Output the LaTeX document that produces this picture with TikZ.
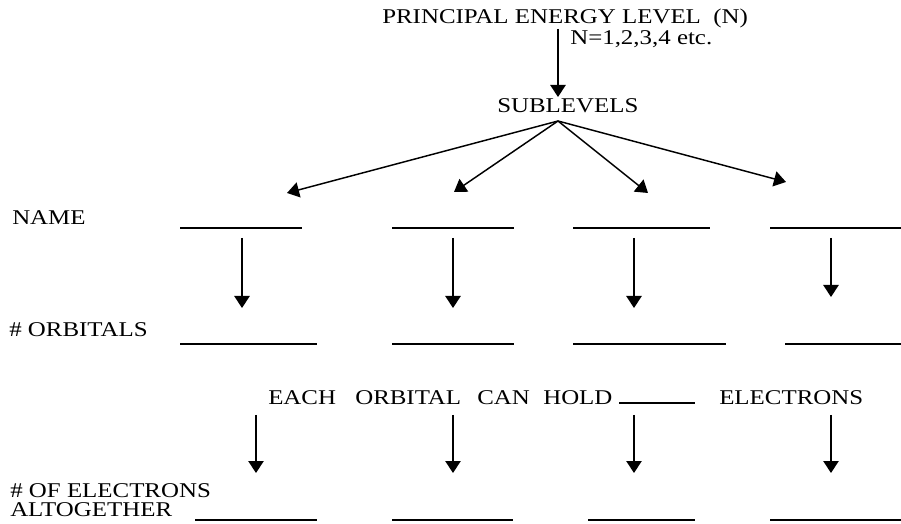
\documentclass[tikz,border=0pt]{standalone}
\usepackage{fontspec}
\setmainfont{Liberation Serif}
\usepackage{graphicx}
\usetikzlibrary{arrows.meta}
\tikzset{
  lbl/.style={inner sep=0pt, anchor=base west, font=\fontsize{15.75}{18}\selectfont},
  arr/.style={line width=1.1pt, -{Triangle[length=9pt,width=11.5pt]}},
  blank/.style={line width=1.3pt},
}
\newcommand\wx[1]{\scalebox{1.186}[1]{#1}}
\begin{document}
\begin{tikzpicture}[x=0.75pt,y=-0.75pt]
\useasboundingbox (0,0) rectangle (901,524);
% texts
\node[lbl] (title) at (382,24) {\wx{PRINCIPAL ENERGY LEVEL\ \ (N)}};
\node[lbl] (nval) at (570,45) {\wx{N=1,2,3,4 etc.}};
\node[lbl] (sub) at (497,113) {\wx{SUBLEVELS}};
\node[lbl] (name) at (12,225) {\wx{NAME}};
\node[lbl] (orb) at (9,337) {\wx{\# ORBITALS}};
\node[lbl] (each) at (268,405) {\wx{EACH}};
\node[lbl] (orbital) at (355,405) {\wx{ORBITAL}};
\node[lbl] (can) at (477,405) {\wx{CAN}};
\node[lbl] (hold) at (543,405) {\wx{HOLD}};
\node[lbl] (elec) at (719,405) {\wx{ELECTRONS}};
\node[lbl] (ofel) at (10,498) {\wx{\# OF ELECTRONS}};
\node[lbl] (alt) at (10,517) {\wx{ALTOGETHER}};
% title arrow
\coordinate (t0) at (558,29);
\coordinate (t1) at (558,97);
\draw[arr] (t0) -- (t1);
% sublevel arrows
\coordinate (apex) at (558,121);
\coordinate (s1) at (287,193);
\coordinate (s2) at (454,192);
\coordinate (s3) at (648,193);
\coordinate (s4) at (786,182);
\foreach \s in {s1,s2,s3,s4} \draw[arr] (apex) -- (\s);
% blanks: name row
\draw[blank] (180,228) -- (302,228);
\draw[blank] (392,228) -- (514,228);
\draw[blank] (573,228) -- (710,228);
\draw[blank] (770,228) -- (901,228);
% blanks: orbital row
\draw[blank] (180,344) -- (317,344);
\draw[blank] (392,344) -- (514,344);
\draw[blank] (573,344) -- (726,344);
\draw[blank] (785,344) -- (901,344);
% blank: each orbital can hold
\draw[blank] (619,403) -- (695,403);
% blanks: bottom row
\draw[blank] (195,520) -- (317,520);
\draw[blank] (392,520) -- (513,520);
\draw[blank] (588,520) -- (695,520);
\draw[blank] (770,520) -- (901,520);
% row 1 arrows
\coordinate (a1) at (242,238); \coordinate (b1) at (242,308);
\coordinate (a2) at (453,238); \coordinate (b2) at (453,308);
\coordinate (a3) at (634,238); \coordinate (b3) at (634,308);
\coordinate (a4) at (831,238); \coordinate (b4) at (831,297);
\foreach \i in {1,2,3,4} \draw[arr] (a\i) -- (b\i);
% row 2 arrows
\coordinate (c1) at (256,415); \coordinate (d1) at (256,473);
\coordinate (c2) at (453,415); \coordinate (d2) at (453,473);
\coordinate (c3) at (634,415); \coordinate (d3) at (634,473);
\coordinate (c4) at (831,415); \coordinate (d4) at (831,473);
\foreach \i in {1,2,3,4} \draw[arr] (c\i) -- (d\i);
\end{tikzpicture}
\end{document}
